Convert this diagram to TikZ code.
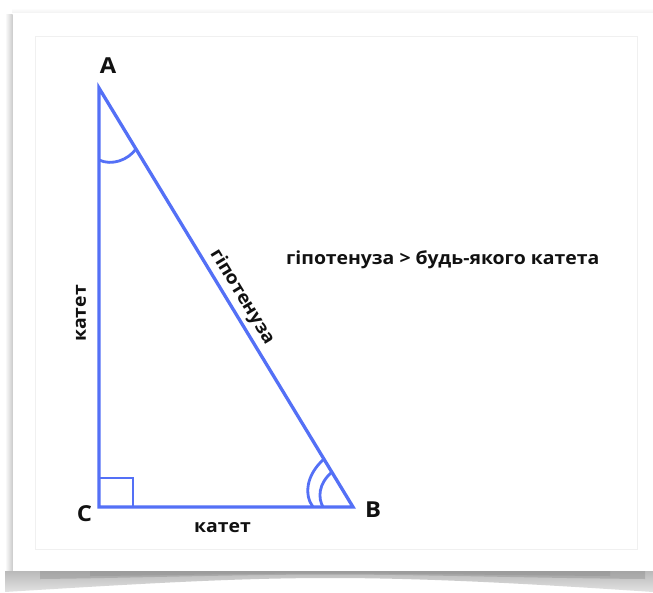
\documentclass[tikz,border=0pt]{standalone}
\usepackage{fontspec}
\setmainfont{Open Sans}[FakeStretch=1.08]
\definecolor{triblue}{RGB}{84,112,246}
\definecolor{txt}{RGB}{17,17,17}
\tikzset{
  side/.style={draw=triblue, line width=3.3pt, line join=miter},
  anglemark/.style={draw=triblue, line width=2.8pt},
  vlabel/.style={font=\fontsize{22}{26}\selectfont\bfseries, text=txt, inner sep=0pt},
  slabel/.style={font=\fontsize{18}{22}\selectfont\bfseries, text=txt, inner sep=0pt},
}
\begin{document}
\begin{tikzpicture}[x=1pt,y=-1pt]
\useasboundingbox (0,0) rectangle (653,592);
\fill[white] (0,0) rectangle (653,592);
% card edges and shadow
\shade[left color=white, right color=gray!40] (5,14) rectangle (12.5,571);
\shade[top color=white, bottom color=gray!10] (12,8) rectangle (653,12.5);
\shade[top color=gray!55, bottom color=gray!22] (5,571) -- (653,571) -- (653,592)
  .. controls (520,583) and (420,578) .. (330,578)
  .. controls (240,578) and (150,583) .. (5,592) -- cycle;
\fill[gray, opacity=0.35] (40,571) -- (645,571) -- (645,579)
  .. controls (530,578) and (420,574.5) .. (330,574.5)
  .. controls (240,574.5) and (130,578) .. (40,579) -- cycle;
\fill[gray, opacity=0.25] (90,571) -- (610,571) -- (610,576)
  .. controls (520,575.5) and (420,573.5) .. (330,573.5)
  .. controls (240,573.5) and (170,575.5) .. (90,576) -- cycle;
\draw[gray!12, line width=1pt] (35,36) rectangle (637,549);
% triangle
\coordinate (A) at (99,88);
\coordinate (C) at (99,507);
\coordinate (B) at (353,507);
\draw[side] (A) -- (B) -- (C) -- cycle;
% right angle
\coordinate (q1) at (99,478);
\coordinate (q2) at (133,478);
\coordinate (q3) at (133,507);
\draw[anglemark] (q1) -- (q2) -- (q3);
% angle at A
\coordinate (a1) at (99,160);
\coordinate (a2) at (136,149);
\draw[anglemark] (a1) .. controls (112,166) and (128,160) .. (a2);
% angles at B
\coordinate (b1) at (324,459);
\coordinate (b2) at (313,507);
\coordinate (b3) at (332,472);
\coordinate (b4) at (323,507);
\draw[anglemark] (b1) .. controls (306,475) and (304,495) .. (b2);
\draw[anglemark] (b3) .. controls (318,484) and (318,498) .. (b4);
% labels
\node[vlabel] (lA) at (108,66) {A};
\node[vlabel] (lB) at (373,510) {B};
\node[vlabel] (lC) at (84.5,514) {C};
\node[slabel] (leg1) at (222.5,527.5) {катет};
\node[slabel, rotate=90] (leg2) at (81,313.5) {катет};
\node[slabel, rotate=-58.8] (hyp) at (242,297) {гіпотенуза};
\node[slabel, anchor=base west] (note) at (286,264.5) {гіпотенуза > будь-якого катета};
\end{tikzpicture}
\end{document}
